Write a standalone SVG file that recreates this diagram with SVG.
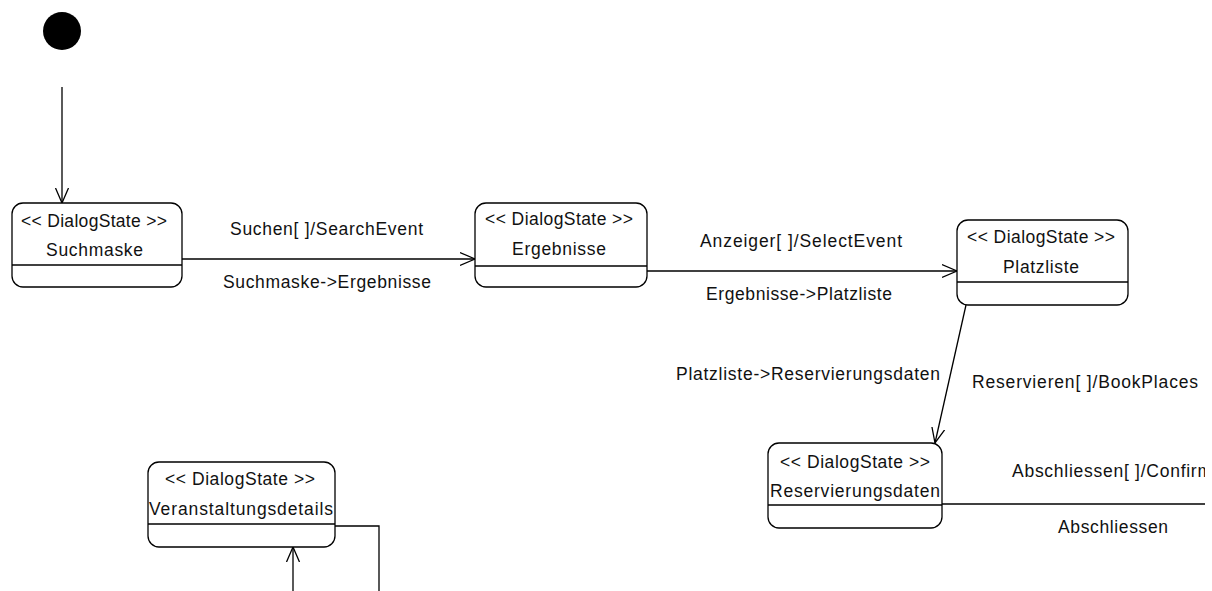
<svg xmlns="http://www.w3.org/2000/svg" width="1212" height="591" viewBox="0 0 1212 591">
<style>
.box{fill:#fff;stroke:#000;stroke-width:1.3}
.div{stroke:#000;stroke-width:1.3}
.e{fill:none;stroke:#000;stroke-width:1.3}
text{font-family:"Liberation Sans",Arial,sans-serif;font-size:17.5px;fill:#111}
</style>
<defs>
<marker id="arr" viewBox="0 0 16 16" refX="15" refY="8" markerWidth="16" markerHeight="16" markerUnits="userSpaceOnUse" orient="auto">
<path d="M0,1.5 L15,8 L0,14.5" fill="none" stroke="#000" stroke-width="1.3"/>
</marker>
<clipPath id="clipR"><rect x="0" y="0" width="1205" height="591"/></clipPath>
</defs>
<rect width="1212" height="591" fill="#fff"/>

<g id="initial">
<circle cx="62" cy="31" r="19" fill="#000"/>
</g>

<g id="connectors">
<line class="e" x1="62" y1="87" x2="62" y2="203" marker-end="url(#arr)"/>
<line class="e" x1="182" y1="259" x2="475" y2="259" marker-end="url(#arr)"/>
<line class="e" x1="647" y1="271" x2="957" y2="271" marker-end="url(#arr)"/>
<line class="e" x1="966" y1="305" x2="935" y2="443" marker-end="url(#arr)"/>
<line class="e" x1="942" y1="504" x2="1205" y2="504"/>
<polyline class="e" points="335,526 379,526 379,591"/>
<line class="e" x1="293" y1="591" x2="293" y2="547" marker-end="url(#arr)"/>
<text x="230" y="235" textLength="193" lengthAdjust="spacing">Suchen[ ]/SearchEvent</text>
<text x="223" y="288" textLength="208" lengthAdjust="spacing">Suchmaske-&gt;Ergebnisse</text>
<text x="700" y="247" textLength="202" lengthAdjust="spacing">Anzeiger[ ]/SelectEvent</text>
<text x="706" y="300" textLength="186" lengthAdjust="spacing">Ergebnisse-&gt;Platzliste</text>
<text x="676" y="380" textLength="264" lengthAdjust="spacing">Platzliste-&gt;Reservierungsdaten</text>
<text x="972" y="388" textLength="226" lengthAdjust="spacing">Reservieren[ ]/BookPlaces</text>
<g clip-path="url(#clipR)">
<text x="1012" y="477" textLength="200" lengthAdjust="spacing">Abschliessen[ ]/Confirm</text>
</g>
<text x="1058" y="533" textLength="110" lengthAdjust="spacing">Abschliessen</text>
</g>

<g id="suchmaske">
<rect class="box" x="12" y="203" width="170" height="84" rx="11"/>
<line class="div" x1="12" y1="265" x2="182" y2="265"/>
<text x="21" y="227" textLength="146" lengthAdjust="spacing">&lt;&lt; DialogState &gt;&gt;</text>
<text x="46" y="256" textLength="97" lengthAdjust="spacing">Suchmaske</text>
</g>

<g id="ergebnisse">
<rect class="box" x="475" y="203" width="172" height="84" rx="11"/>
<line class="div" x1="475" y1="266" x2="647" y2="266"/>
<text x="485" y="225" textLength="148" lengthAdjust="spacing">&lt;&lt; DialogState &gt;&gt;</text>
<text x="512" y="255" textLength="94" lengthAdjust="spacing">Ergebnisse</text>
</g>

<g id="platzliste">
<rect class="box" x="957" y="220" width="171" height="85" rx="11"/>
<line class="div" x1="957" y1="282" x2="1128" y2="282"/>
<text x="967" y="243" textLength="148" lengthAdjust="spacing">&lt;&lt; DialogState &gt;&gt;</text>
<text x="1003" y="273" textLength="76" lengthAdjust="spacing">Platzliste</text>
</g>

<g id="reservierungsdaten">
<rect class="box" x="768" y="443" width="174" height="85" rx="11"/>
<line class="div" x1="768" y1="505" x2="942" y2="505"/>
<text x="780" y="468" textLength="150" lengthAdjust="spacing">&lt;&lt; DialogState &gt;&gt;</text>
<text x="770" y="497" textLength="170" lengthAdjust="spacing">Reservierungsdaten</text>
</g>

<g id="veranstaltungsdetails">
<rect class="box" x="148" y="462" width="187" height="85" rx="11"/>
<line class="div" x1="148" y1="524" x2="335" y2="524"/>
<text x="165" y="485" textLength="150" lengthAdjust="spacing">&lt;&lt; DialogState &gt;&gt;</text>
<text x="149" y="515" textLength="184" lengthAdjust="spacing">Veranstaltungsdetails</text>
</g>
</svg>
